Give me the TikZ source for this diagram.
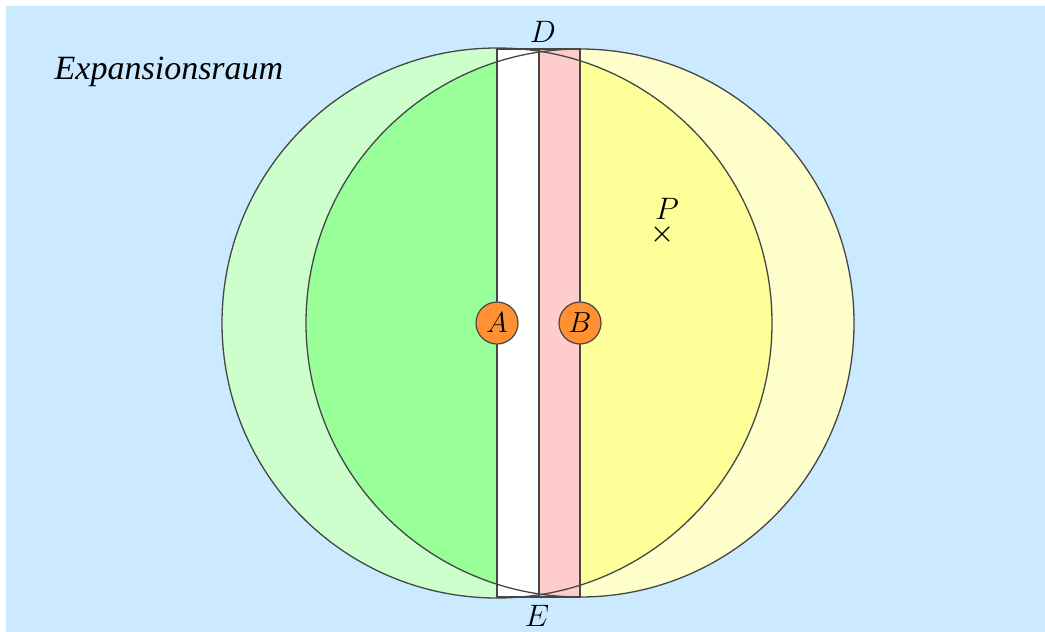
\RequirePackage{fix-cm}
\documentclass[tikz,border=0pt]{standalone}
\usepackage{fontspec}
\newfontfamily\labfont{Liberation Serif}
\usetikzlibrary{shapes.misc}
\definecolor{bgblue}{RGB}{204,234,255}
\definecolor{lgreen}{RGB}{204,255,204}
\definecolor{dgreen}{RGB}{153,255,153}
\definecolor{lyellow}{RGB}{255,255,204}
\definecolor{dyellow}{RGB}{255,255,153}
\definecolor{spink}{RGB}{255,204,204}
\definecolor{orng}{RGB}{255,145,50}
\definecolor{outl}{RGB}{70,70,70}
\tikzset{
  outline/.style={draw=outl, line width=1.3pt},
  ptnode/.style={circle, draw=outl, line width=1.2pt, fill=orng, minimum size=42pt, inner sep=0pt, font=\fontsize{29}{34}\selectfont},
  lab/.style={font=\fontsize{31}{36}\selectfont, inner sep=0pt},
  crossmark/.style={cross out, draw=black, line width=1.2pt, minimum size=13pt, inner sep=0pt}
}
\begin{document}
\begin{tikzpicture}[x=1pt,y=-1pt]
\useasboundingbox (0,0) rectangle (1045,632);
\fill[bgblue] (6,6) rectangle (1045,632);
\coordinate (cL) at (497,323);
\coordinate (cR) at (580,323);
\begin{scope}
  \clip (0,0) rectangle (497,632);
  \fill[lgreen] (cL) circle[radius=275pt];
  \fill[dgreen] (cR) circle[radius=274pt];
\end{scope}
\begin{scope}
  \clip (580,0) rectangle (1045,632);
  \fill[lyellow] (cR) circle[radius=274pt];
  \fill[dyellow] (cL) circle[radius=275pt];
\end{scope}
\draw[outline, fill=white] (497,49) rectangle (539,597);
\draw[outline, fill=spink] (539,49) rectangle (580,597);
\draw[outline] (cL) circle[radius=275pt];
\draw[outline] (cR) circle[radius=274pt];
\node[ptnode] (A) at (cL) {$A$};
\node[ptnode] (B) at (cR) {$B$};
\node[lab] (D) at (543,32) {$D$};
\node[lab] (E) at (537,616) {$E$};
\node[lab] (P) at (667,209) {$P$};
\node[crossmark] (Px) at (662,234) {};
\node[inner sep=0pt, font=\labfont\itshape\fontsize{34}{40}\selectfont] (exp) at (169,72) {Expansionsraum};
\end{tikzpicture}
\end{document}
